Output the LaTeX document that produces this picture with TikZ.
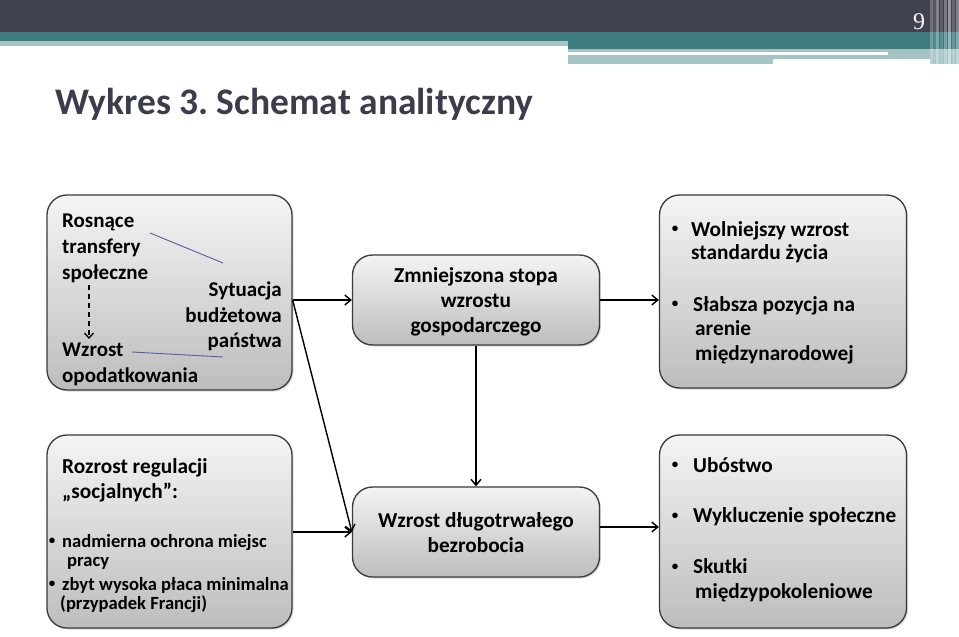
\documentclass[tikz,border=0pt]{standalone}
\usepackage{fontspec}
\setmainfont{Carlito}
\newfontfamily\numfont{Liberation Serif}
\usetikzlibrary{arrows.meta,shadows}
\definecolor{hdark}{HTML}{41424F}
\definecolor{hteal}{HTML}{3F7C80}
\definecolor{hlight}{HTML}{A3C3C5}
\definecolor{titlec}{HTML}{3C3D4C}
\definecolor{boxline}{HTML}{3A3A3A}
\definecolor{boxtop}{HTML}{F4F4F4}
\definecolor{boxbot}{HTML}{BDBDBD}
\definecolor{thinblue}{HTML}{5060A0}
\begin{document}
\begin{tikzpicture}[x=1pt,y=-1pt,
  box/.style={draw=boxline, line width=1.3pt, rounded corners=20pt, top color=boxtop, bottom color=boxbot,
    drop shadow={shadow xshift=1.5pt,shadow yshift=-1.5pt,opacity=0.3}},
  arr/.style={-{Straight Barb[length=6pt,width=10pt]}, line width=1.4pt, black},
  big/.style={inner sep=0pt, anchor=base west, font=\fontsize{21}{24}\selectfont\bfseries},
  bigr/.style={big, anchor=base east},
  mid/.style={inner sep=0pt, anchor=base west, font=\fontsize{21.3}{24}\selectfont\bfseries},
  midc/.style={mid, anchor=base},
  sml/.style={inner sep=0pt, anchor=base west, font=\fontsize{18.6}{22}\selectfont\bfseries},
  bul/.style={inner sep=0pt, anchor=center, font=\fontsize{13}{13}\selectfont\bfseries}]
\useasboundingbox (0,0) rectangle (959,637);
% header
\fill[hdark] (0,0) rectangle (959,32);
\fill[hteal] (0,32) rectangle (959,41);
\fill[hlight] (0,41) rectangle (568,46);
\fill[hteal] (568,41) rectangle (959,49);
\fill[hlight] (568,49) rectangle (959,64);
\fill[white] (568,52) rectangle (888,55);
\fill[white] (773,59) rectangle (930,64);
\foreach \x/\o in {930/0.25,933/0.1,936/0.35,940/0.15,944/0.3,948/0.45,952/0.2,956/0.35}
  \fill[white, opacity=\o] (\x,0) rectangle ++(2.5,65);
\node[font=\numfont\fontsize{24}{24}\selectfont, text=white!92!gray, inner sep=0pt] (pg) at (919,22) {9};
% title
\node[anchor=base west, inner sep=0pt, font=\fontsize{37.5}{42}\selectfont\bfseries, text=titlec] (title) at (55,114) {Wykres 3.\ Schemat analityczny};
% boxes
\node[box, minimum width=245pt, minimum height=195pt] (A) at (169.5,292.5) {};
\node[box, minimum width=247pt, minimum height=90pt] (B) at (476,300) {};
\node[box, minimum width=247pt, minimum height=193pt] (C) at (783,291.5) {};
\node[box, minimum width=245pt, minimum height=193pt] (D) at (169.5,531.5) {};
\node[box, minimum width=247pt, minimum height=90pt] (E) at (476,532) {};
\node[box, minimum width=247pt, minimum height=193pt] (F) at (783,531.5) {};
% box A text
\node[big] (a1) at (62,227) {Rosnące};
\node[big] (a2) at (62,253) {transfery};
\node[big] (a3) at (62,279) {społeczne};
\node[bigr] (a4) at (282,296) {Sytuacja};
\node[bigr] (a5) at (282,322) {budżetowa};
\node[bigr] (a6) at (282,347) {państwa};
\node[big] (a7) at (62,356) {Wzrost};
\node[big] (a8) at (62,382) {opodatkowania};
\coordinate (ds) at (89,285);
\coordinate (de) at (89,339);
\draw[-{Straight Barb[length=5pt,width=9pt]}, line width=1.3pt, dash pattern=on 5pt off 4pt] (ds) -- (de);
\coordinate (l1a) at (150,233);
\coordinate (l1b) at (223,263);
\coordinate (l2a) at (132,352);
\coordinate (l2b) at (223,357);
\draw[thinblue, line width=0.9pt] (l1a) -- (l1b);
\draw[thinblue, line width=0.9pt] (l2a) -- (l2b);
% box B text
\node[midc] (b1) at (476,282) {Zmniejszona stopa};
\node[midc] (b2) at (476,307) {wzrostu};
\node[midc] (b3) at (476,332) {gospodarczego};
% box C text
\node[bul] (c1b) at (675,229) {•};
\node[mid] (c1) at (691,236) {Wolniejszy wzrost};
\node[mid] (c2) at (691,259) {standardu życia};
\node[bul] (c3b) at (675,304) {•};
\node[mid] (c3) at (693,311) {Słabsza pozycja na};
\node[mid] (c4) at (695,335) {arenie};
\node[mid] (c5) at (695,360) {międzynarodowej};
% box D text
\node[mid] (d1) at (62,473) {Rozrost regulacji};
\node[mid] (d2) at (62,498) {„socjalnych”:};
\node[bul] (d3b) at (52,541) {•};
\node[sml] (d3) at (62,547) {nadmierna ochrona miejsc};
\node[sml] (d4) at (67,566) {pracy};
\node[bul] (d5b) at (52,584) {•};
\node[sml] (d5) at (62,590) {zbyt wysoka płaca minimalna};
\node[sml] (d6) at (60,609) {(przypadek Francji)};
% box E text
\node[midc] (e1) at (476,527) {Wzrost długotrwałego};
\node[midc] (e2) at (476,552) {bezrobocia};
% box F text
\node[bul] (f1b) at (675,465) {•};
\node[mid] (f1) at (693,472) {Ubóstwo};
\node[bul] (f2b) at (675,516) {•};
\node[mid] (f2) at (693,522) {Wykluczenie społeczne};
\node[bul] (f3b) at (675,567) {•};
\node[mid] (f3) at (693,573) {Skutki};
\node[mid] (f4) at (695,598) {międzypokoleniowe};
% arrows
\draw[arr] (A.east |- B.west) -- (B.west);
\draw[arr] (A.east |- B.west) -- (E.west);
\draw[arr] (D.east |- E.west) -- (E.west);
\draw[arr] (B.south) -- (E.north);
\draw[arr] (B.east) -- (C.west |- B.east);
\draw[arr] ([yshift=5pt]E.east) -- ([yshift=5pt]F.west |- E.east);
\end{tikzpicture}
\end{document}
